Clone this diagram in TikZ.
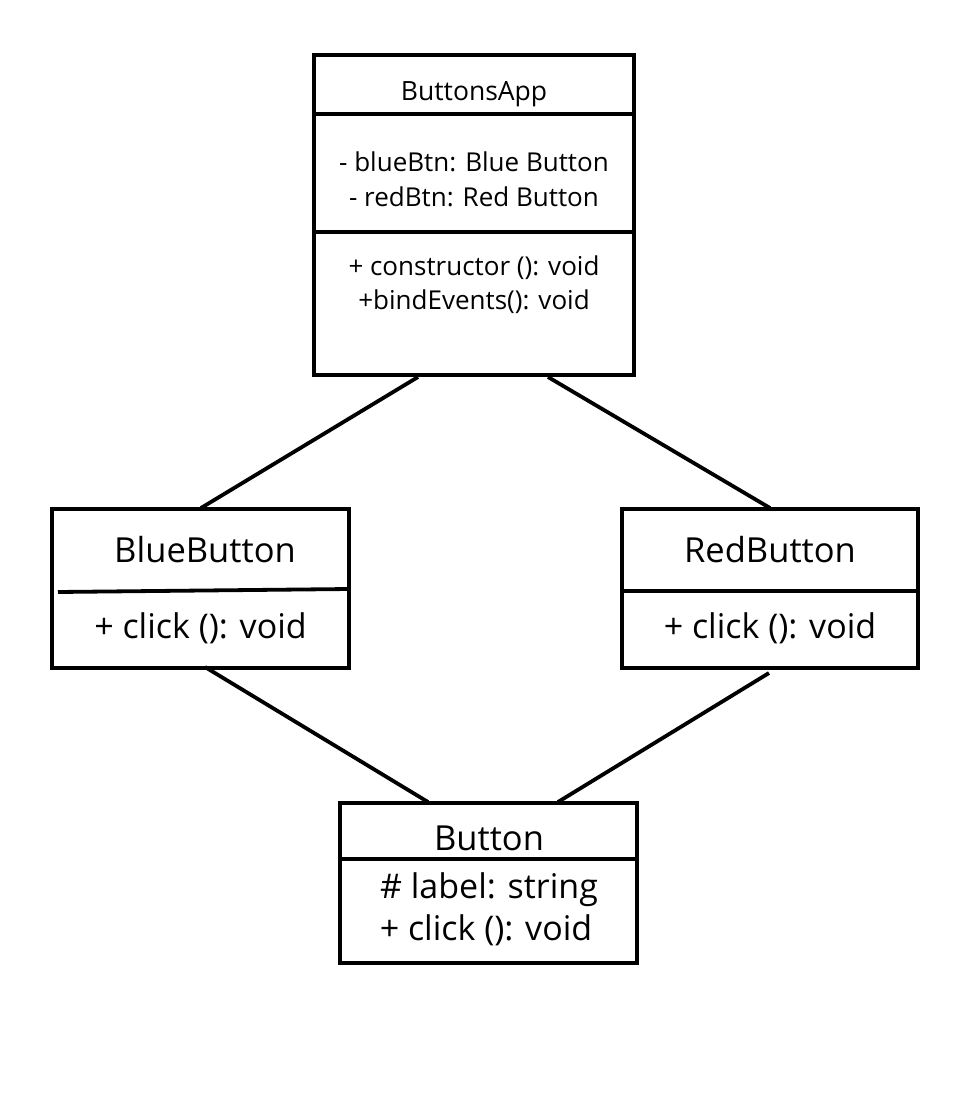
\documentclass[tikz,border=0pt]{standalone}
\usepackage{fontspec}
\setmainfont{Open Sans}
\begin{document}
\begin{tikzpicture}[x=1pt,y=-1pt,
  box/.style={draw, line width=3.8pt, inner sep=0pt},
  rule/.style={line width=3.8pt},
  conn/.style={line width=3.8pt},
  smalltxt/.style={inner sep=0pt, font=\fontsize{26}{30}\selectfont},
  bigtxt/.style={inner sep=0pt, font=\fontsize{34}{40}\selectfont}]
\useasboundingbox (0,0) rectangle (972,1102);
\fill[white] (0,0) rectangle (972,1102);
% ButtonsApp
\node[box, minimum width=320pt, minimum height=320pt] (app) at (474,215) {};
\coordinate (appd1l) at (314,114); \coordinate (appd1r) at (634,114);
\coordinate (appd2l) at (314,232); \coordinate (appd2r) at (634,232);
\draw[rule] (appd1l) -- (appd1r);
\draw[rule] (appd2l) -- (appd2r);
\node[smalltxt, font=\fontsize{26.5}{30}\selectfont] (appt) at (474,94) {ButtonsApp};
\node[smalltxt] (appa1) at (474,162) {- blueBtn: Blue Button};
\node[smalltxt] (appa2) at (474,197) {- redBtn: Red Button};
\node[smalltxt] (appm1) at (474,268) {+ constructor (): void};
\node[smalltxt] (appm2) at (474,302) {+bindEvents(): void};
% BlueButton
\node[box, minimum width=297pt, minimum height=159pt] (blue) at (200.5,588.5) {};
\coordinate (bdl) at (58,592); \coordinate (bdr) at (349,589);
\draw[rule] (bdl) -- (bdr);
\node[bigtxt, font=\fontsize{34.5}{40}\selectfont] (bluet) at (205,550) {BlueButton};
\node[bigtxt] (bluem) at (200.5,628) {+ click (): void};
% RedButton
\node[box, minimum width=296pt, minimum height=159pt] (red) at (770,588.5) {};
\coordinate (rdl) at (622,591); \coordinate (rdr) at (918,591);
\draw[rule] (rdl) -- (rdr);
\node[bigtxt, font=\fontsize{34.5}{40}\selectfont] (redt) at (770,550) {RedButton};
\node[bigtxt] (redm) at (770,628) {+ click (): void};
% Button
\node[box, minimum width=297pt, minimum height=160pt] (btn) at (488.5,883) {};
\coordinate (btdl) at (340,859); \coordinate (btdr) at (637,859);
\draw[rule] (btdl) -- (btdr);
\node[bigtxt, font=\fontsize{34.5}{40}\selectfont] (btnt) at (489,838) {Button};
\node[bigtxt] (btna) at (489,890) {\# label: string};
\node[bigtxt] (btnm) at (486,930) {+ click (): void};
% connectors
\coordinate (c1a) at (418,377); \coordinate (c1b) at (201,508);
\coordinate (c2a) at (548,377); \coordinate (c2b) at (770,508);
\coordinate (c3a) at (205,667); \coordinate (c3b) at (428,802);
\coordinate (c4a) at (769,673); \coordinate (c4b) at (558,802);
\draw[conn] (c1a) -- (c1b);
\draw[conn] (c2a) -- (c2b);
\draw[conn] (c3a) -- (c3b);
\draw[conn] (c4a) -- (c4b);
\end{tikzpicture}
\end{document}
